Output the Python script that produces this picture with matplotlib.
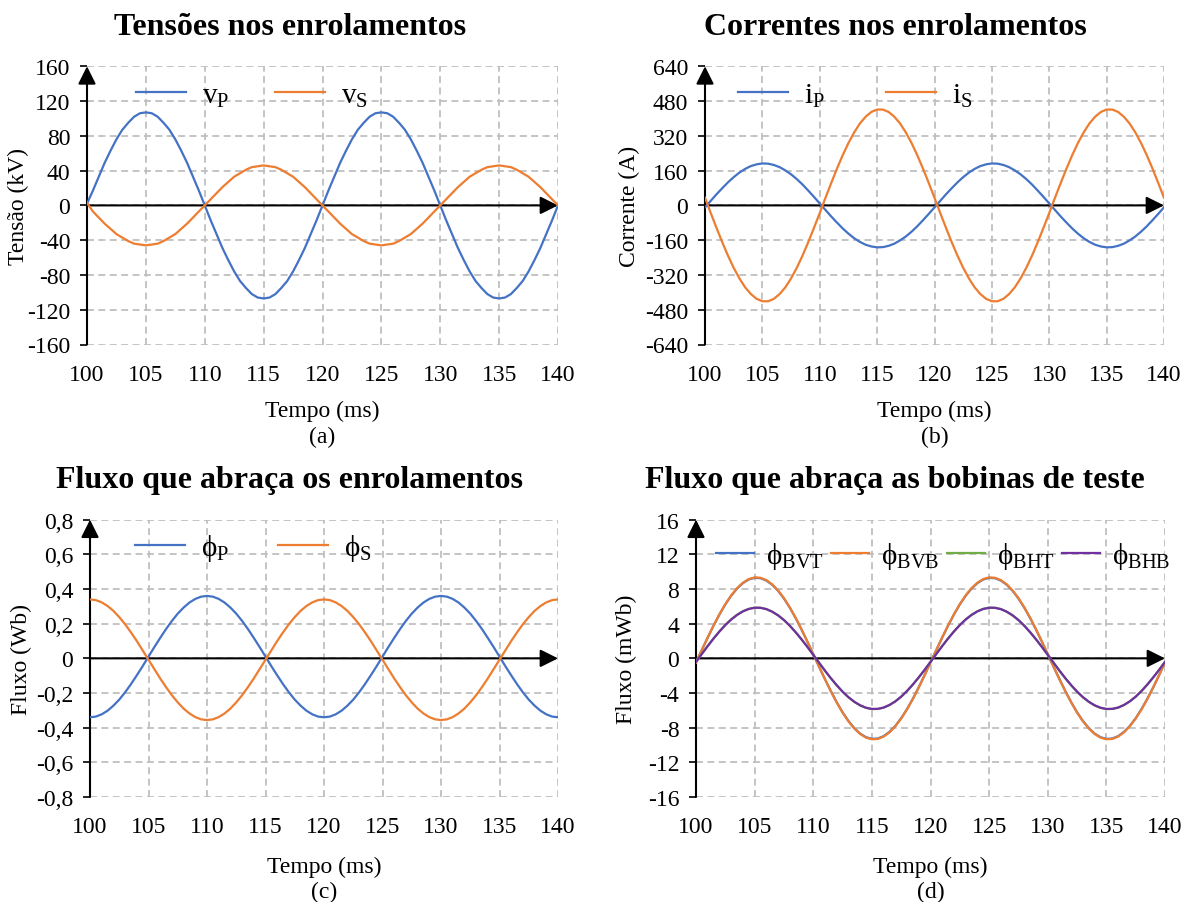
"""
Tensões, correntes e fluxos no transformador (4 gráficos)
"""
import matplotlib
matplotlib.use('Agg')
import matplotlib.pyplot as plt

# DADOS (passo de 0,5 ms de 100 a 140 ms)
#####################
tempo = [100 + 0.5 * k for k in range(81)]
xticks = [100, 105, 110, 115, 120, 125, 130, 135, 140]

v_P = [2, 17, 33, 49, 63, 76, 87, 95, 102, 106, 107, 106, 102, 95, 87, 76, 63, 49, 33, 17,
       0, -17, -33, -49, -63, -76, -87, -95, -102, -106, -107, -106, -102, -95, -87, -76, -63, -49, -33, -17,
       0, 17, 33, 49, 63, 76, 87, 95, 102, 106, 107, 106, 102, 95, 87, 76, 63, 49, 33, 17,
       0, -17, -33, -49, -63, -76, -87, -95, -102, -106, -107, -106, -102, -95, -87, -76, -63, -49, -33, -17,
       0]
v_S = [3, -7, -14, -21, -27, -33, -37, -41, -44, -45, -46, -45, -44, -41, -37, -33, -27, -21, -14, -7,
       0, 7, 14, 21, 27, 33, 37, 41, 44, 45, 46, 45, 44, 41, 37, 33, 27, 21, 14, 7,
       0, -7, -14, -21, -27, -33, -37, -41, -44, -45, -46, -45, -44, -41, -37, -33, -27, -21, -14, -7,
       0, 7, 14, 21, 27, 33, 37, 41, 44, 45, 46, 45, 44, 41, 37, 33, 27, 21, 14, 7,
       0]

i_P = [-9, 21, 51, 79, 106, 130, 151, 168, 181, 189, 193, 192, 186, 176, 161, 143, 121, 96, 68, 39,
       9, -21, -51, -79, -106, -130, -151, -168, -181, -189, -193, -192, -186, -176, -161, -143, -121, -96, -68, -39,
       -9, 21, 51, 79, 106, 130, 151, 168, 181, 189, 193, 192, 186, 176, 161, 143, 121, 96, 68, 39,
       9, -21, -51, -79, -106, -130, -151, -168, -181, -189, -193, -192, -186, -176, -161, -143, -121, -96, -68, -39,
       -9]
i_S = [35, -35, -103, -169, -231, -287, -336, -377, -408, -430, -441, -441, -430, -408, -377, -336, -287, -231, -169, -103,
       -35, 35, 103, 169, 231, 287, 336, 377, 408, 430, 441, 441, 430, 408, 377, 336, 287, 231, 169, 103,
       35, -35, -103, -169, -231, -287, -336, -377, -408, -430, -441, -441, -430, -408, -377, -336, -287, -231, -169, -103,
       -35, 35, 103, 169, 231, 287, 336, 377, 408, 430, 441, 441, 430, 408, 377, 336, 287, 231, 169, 103,
       35]

phi_P = [-0.340, -0.336, -0.323, -0.302, -0.273, -0.238, -0.196, -0.149, -0.098, -0.045,
         0.010, 0.065, 0.118, 0.169, 0.216, 0.258, 0.293, 0.322, 0.343, 0.356,
         0.360, 0.356, 0.343, 0.322, 0.293, 0.258, 0.216, 0.169, 0.118, 0.065,
         0.010, -0.045, -0.098, -0.149, -0.196, -0.238, -0.273, -0.302, -0.323, -0.336,
         -0.340, -0.336, -0.323, -0.302, -0.273, -0.238, -0.196, -0.149, -0.098, -0.045,
         0.010, 0.065, 0.118, 0.169, 0.216, 0.258, 0.293, 0.322, 0.343, 0.356,
         0.360, 0.356, 0.343, 0.322, 0.293, 0.258, 0.216, 0.169, 0.118, 0.065,
         0.010, -0.045, -0.098, -0.149, -0.196, -0.238, -0.273, -0.302, -0.323, -0.336,
         -0.340]
phi_S = [0.340, 0.336, 0.323, 0.302, 0.274, 0.238, 0.197, 0.150, 0.100, 0.046,
         -0.008, -0.062, -0.116, -0.166, -0.213, -0.254, -0.290, -0.318, -0.339, -0.352,
         -0.356, -0.352, -0.339, -0.318, -0.290, -0.254, -0.213, -0.166, -0.116, -0.062,
         -0.008, 0.046, 0.100, 0.150, 0.197, 0.238, 0.274, 0.302, 0.323, 0.336,
         0.340, 0.336, 0.323, 0.302, 0.274, 0.238, 0.197, 0.150, 0.100, 0.046,
         -0.008, -0.062, -0.116, -0.166, -0.213, -0.254, -0.290, -0.318, -0.339, -0.352,
         -0.356, -0.352, -0.339, -0.318, -0.290, -0.254, -0.213, -0.166, -0.116, -0.062,
         -0.008, 0.046, 0.100, 0.150, 0.197, 0.238, 0.274, 0.302, 0.323, 0.336,
         0.340]

phi_BVT = [-0.45, 0.97, 2.40, 3.78, 5.06, 6.22, 7.22, 8.05, 8.68, 9.10, 9.29, 9.25, 8.98, 8.49, 7.80, 6.91, 5.85, 4.65, 3.33, 1.93,
           0.47, -0.97, -2.40, -3.78, -5.06, -6.22, -7.22, -8.05, -8.68, -9.10, -9.29, -9.25, -8.98, -8.49, -7.80, -6.91, -5.85, -4.65, -3.33, -1.93,
           -0.45, 0.97, 2.40, 3.78, 5.06, 6.22, 7.22, 8.05, 8.68, 9.10, 9.29, 9.25, 8.98, 8.49, 7.80, 6.91, 5.85, 4.65, 3.33, 1.93,
           0.47, -0.97, -2.40, -3.78, -5.06, -6.22, -7.22, -8.05, -8.68, -9.10, -9.29, -9.25, -8.98, -8.49, -7.80, -6.91, -5.85, -4.65, -3.33, -1.93,
           -0.45]
phi_BVB = [-0.49, 0.98, 2.42, 3.80, 5.09, 6.26, 7.27, 8.10, 8.73, 9.15, 9.34, 9.30, 9.03, 8.54, 7.84, 6.95, 5.88, 4.68, 3.35, 1.94,
           0.49, -0.98, -2.42, -3.80, -5.09, -6.26, -7.27, -8.10, -8.73, -9.15, -9.34, -9.30, -9.03, -8.54, -7.84, -6.95, -5.88, -4.68, -3.35, -1.94,
           -0.49, 0.98, 2.42, 3.80, 5.09, 6.26, 7.27, 8.10, 8.73, 9.15, 9.34, 9.30, 9.03, 8.54, 7.84, 6.95, 5.88, 4.68, 3.35, 1.94,
           0.49, -0.98, -2.42, -3.80, -5.09, -6.26, -7.27, -8.10, -8.73, -9.15, -9.34, -9.30, -9.03, -8.54, -7.84, -6.95, -5.88, -4.68, -3.35, -1.94,
           -0.49]
phi_BHT = [-0.40, 0.52, 1.43, 2.30, 3.11, 3.85, 4.49, 5.02, 5.43, 5.71, 5.85, 5.84, 5.69, 5.39, 4.97, 4.43, 3.77, 3.02, 2.20, 1.33,
           0.40, -0.52, -1.43, -2.30, -3.11, -3.85, -4.49, -5.02, -5.43, -5.71, -5.85, -5.84, -5.69, -5.39, -4.97, -4.43, -3.77, -3.02, -2.20, -1.33,
           -0.40, 0.52, 1.43, 2.30, 3.11, 3.85, 4.49, 5.02, 5.43, 5.71, 5.85, 5.84, 5.69, 5.39, 4.97, 4.43, 3.77, 3.02, 2.20, 1.33,
           0.40, -0.52, -1.43, -2.30, -3.11, -3.85, -4.49, -5.02, -5.43, -5.71, -5.85, -5.84, -5.69, -5.39, -4.97, -4.43, -3.77, -3.02, -2.20, -1.33,
           -0.40]
phi_BHB = [-0.41, 0.51, 1.42, 2.29, 3.10, 3.84, 4.48, 5.01, 5.42, 5.70, 5.84, 5.83, 5.68, 5.38, 4.96, 4.42, 3.76, 3.01, 2.19, 1.32,
           0.41, -0.51, -1.42, -2.29, -3.10, -3.84, -4.48, -5.01, -5.42, -5.70, -5.84, -5.83, -5.68, -5.38, -4.96, -4.42, -3.76, -3.01, -2.19, -1.32,
           -0.41, 0.51, 1.42, 2.29, 3.10, 3.84, 4.48, 5.01, 5.42, 5.70, 5.84, 5.83, 5.68, 5.38, 4.96, 4.42, 3.76, 3.01, 2.19, 1.32,
           0.41, -0.51, -1.42, -2.29, -3.10, -3.84, -4.48, -5.01, -5.42, -5.70, -5.84, -5.83, -5.68, -5.38, -4.96, -4.42, -3.76, -3.01, -2.19, -1.32,
           -0.41]

yt_a = [-160, -120, -80, -40, 0, 40, 80, 120, 160]
yt_b = [-640, -480, -320, -160, 0, 160, 320, 480, 640]
yt_c = [-0.8, -0.6, -0.4, -0.2, 0, 0.2, 0.4, 0.6, 0.8]
yl_c = ['-0,8', '-0,6', '-0,4', '-0,2', '0', '0,2', '0,4', '0,6', '0,8']
yt_d = [-16, -12, -8, -4, 0, 4, 8, 12, 16]

AZUL, LARANJA, VERDE, ROXO = '#4472C4', '#ED7D31', '#70AD47', '#7030A0'

plt.rcParams['font.family'] = ['Liberation Serif', 'DejaVu Serif']
plt.rcParams.update({'mathtext.fontset': 'custom', 'mathtext.rm': 'Liberation Serif',
                     'mathtext.default': 'regular', 'lines.scale_dashes': False})

W, H = 1189, 903


def px(x0, x1, y0, y1):
    # caixa em pixels -> fração da figura
    return [x0 / W, 1 - y1 / H, (x1 - x0) / W, (y1 - y0) / H]


def Grafico(ax, series, cores, nomes, yticks, ylabels, ylabel, ylab_x, leg_pos, leg_kw):
    for y, c, n in zip(series, cores, nomes):
        ax.plot(tempo, y, color=c, lw=1.6, label=n, zorder=3)

    ax.set_xlim(100, 140)
    ax.set_ylim(yticks[0], yticks[-1])
    ax.set_xticks(xticks)
    ax.set_xticklabels([str(v) for v in xticks])
    ax.set_yticks(yticks)
    ax.set_yticklabels(ylabels)
    ax.tick_params(axis='x', length=0, pad=14, labelsize=17)
    ax.tick_params(axis='y', direction='out', length=5, width=1.2, pad=7, labelsize=17)
    for s in ax.spines.values():
        s.set_visible(False)
    ax.grid(True, color='#BFBFBF', ls=(0, (5, 3.2)), lw=1.3)
    ax.set_axisbelow(True)

    # eixos com seta
    seta = dict(arrowstyle='-|>', mutation_scale=27, lw=1.5, color='k', shrinkA=0, shrinkB=0)
    ax.annotate('', xy=(0, 1), xytext=(0, 0), xycoords='axes fraction', arrowprops=seta,
                annotation_clip=False, zorder=2.5)
    ax.annotate('', xy=(140, 0), xytext=(100, 0), xycoords='data', arrowprops=seta,
                annotation_clip=False, zorder=2.5)

    ax.set_ylabel(ylabel, fontsize=17)
    ax.yaxis.set_label_coords(ylab_x, 0.5)
    ax.legend(loc='center left', bbox_to_anchor=leg_pos, frameon=False, fontsize=21,
              borderpad=0, borderaxespad=0, **leg_kw)


fig = plt.figure(figsize=(W / 100, H / 100), dpi=100)

ax1 = fig.add_axes(px(87, 558, 67.3, 345.5))
ax2 = fig.add_axes(px(705, 1164, 67.3, 345.5))
ax3 = fig.add_axes(px(90, 558, 520.7, 798))
ax4 = fig.add_axes(px(696, 1165, 520.7, 798))

leg2 = dict(ncol=2, handlelength=1.71, handletextpad=0.55, columnspacing=1.58)

Grafico(ax1, [v_P, v_S], [AZUL, LARANJA], [r'$v_P$', r'$v_S$'], yt_a, [str(v) for v in yt_a],
        'Tensão (kV)', -0.123, (0.104, 0.896), leg2)
Grafico(ax2, [i_P, i_S], [AZUL, LARANJA], [r'$i_P$', r'$i_S$'], yt_b, [str(v) for v in yt_b],
        'Corrente (A)', -0.142, (0.072, 0.896), dict(leg2, columnspacing=2.1))
Grafico(ax3, [phi_P, phi_S], [AZUL, LARANJA], [r'$ϕ_P$', r'$ϕ_S$'], yt_c, yl_c,
        'Fluxo (Wb)', -0.124, (0.096, 0.898), dict(leg2, columnspacing=1.68))
Grafico(ax4, [phi_BVT, phi_BVB, phi_BHT, phi_BHB], [AZUL, LARANJA, VERDE, ROXO],
        [r'$ϕ_{BVT}$', r'$ϕ_{BVB}$', r'$ϕ_{BHT}$', r'$ϕ_{BHB}$'], yt_d, [str(v) for v in yt_d],
        'Fluxo (mWb)', -0.126, (0.043, 0.87),
        dict(ncol=4, handlelength=1.3, handletextpad=0.41, columnspacing=0.25))

# títulos e legendas de eixo x
titulos = ['Tensões nos enrolamentos', 'Correntes nos enrolamentos',
           'Fluxo que abraça os enrolamentos', 'Fluxo que abraça as bobinas de teste']
letras = ['(a)', '(b)', '(c)', '(d)']
for n, ax in enumerate([ax1, ax2, ax3, ax4]):
    linha = n // 2
    xc = [290, 895][n % 2] / W
    fig.text(xc, 1 - (34.6 + 453.4 * linha) / H, titulos[n], ha='center', va='baseline',
             fontsize=23, fontweight='bold')
    pos = ax.get_position()
    xm = (pos.x0 + pos.x1) / 2
    fig.text(xm, 1 - (417.3 + 456 * linha) / H, 'Tempo (ms)', ha='center', va='baseline', fontsize=17)
    fig.text(xm, 1 - (443.5 + 455 * linha) / H, letras[n], ha='center', va='baseline', fontsize=17)

plt.savefig('out.png', dpi=100)
